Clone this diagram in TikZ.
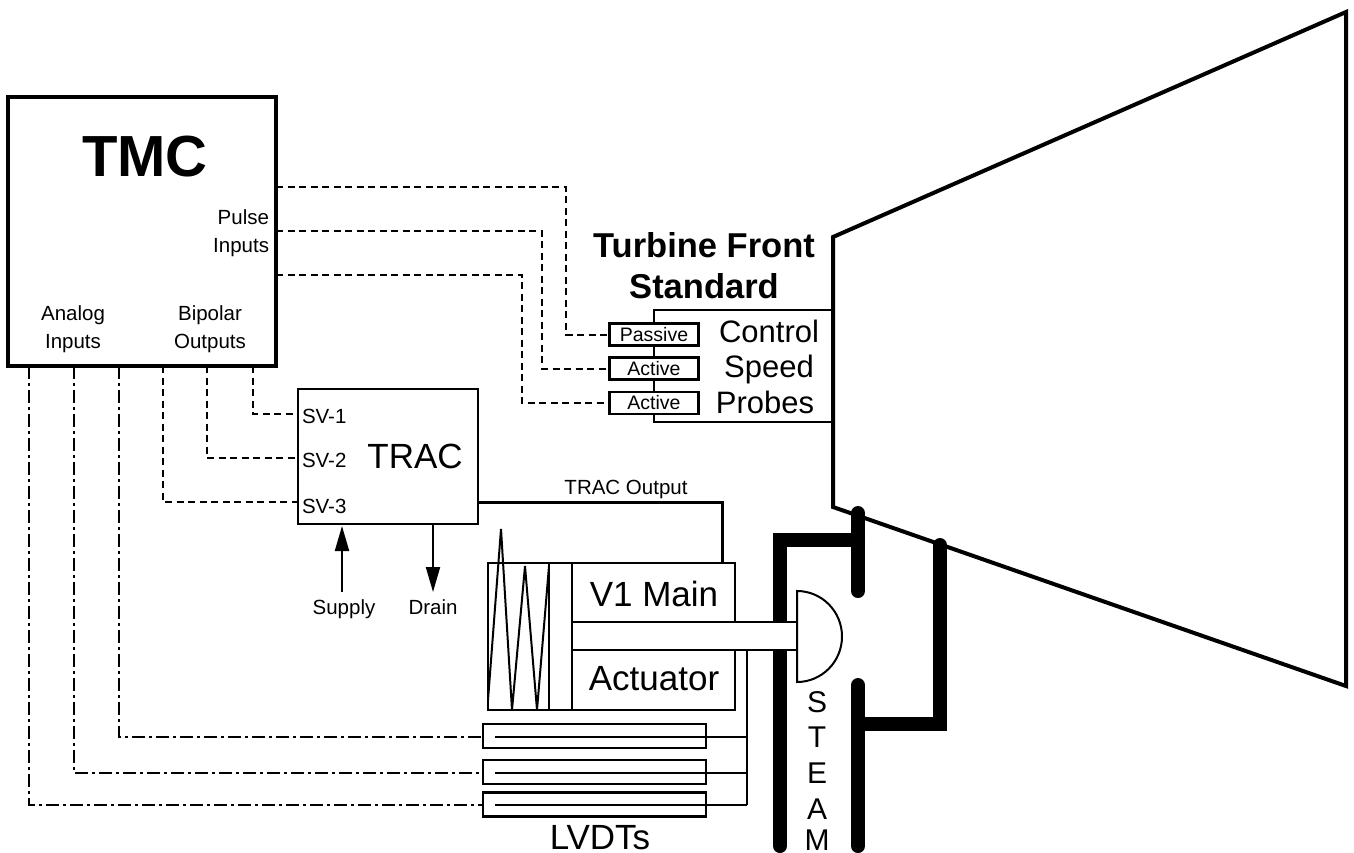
\documentclass[tikz,border=0pt]{standalone}
\usepackage{fontspec}
\setmainfont{Liberation Sans}
\usetikzlibrary{arrows.meta}
\begin{document}
\begin{tikzpicture}[
            x=1pt, y=-1pt, inner sep=0pt, outer sep=0pt,
            box/.style={rectangle, draw=black, line width=2.5pt, fill=white},
            probe/.style={box, minimum width=89pt, minimum height=22pt},
            lvdt/.style={box, minimum width=223pt, minimum height=24pt},
            lbl/.style={font=\fontsize{20.5}{28}\selectfont, align=center},
            big/.style={font=\fontsize{35}{41}\selectfont, align=center, anchor=base},
            mid/.style={font=\fontsize{31}{36}\selectfont, anchor=base},
            head/.style={font=\bfseries\fontsize{34.5}{41}\selectfont, anchor=base},
            dashline/.style={line width=2pt, dash pattern=on 7pt off 4.5pt},
            dotline/.style={line width=2pt, dash pattern=on 13pt off 4pt on 3pt off 4pt},
            wire/.style={line width=2pt},
            flow/.style={wire, -{Triangle[length=25pt, width=14pt]}},
            pipe/.style={line width=14pt, line cap=round, line join=miter}
          ]
          \useasboundingbox (0,0) rectangle (1354,852);
          % Turbine
          \draw[line width=4pt, line join=miter] (833,237) -- (1346,12) -- (1346,686)
            -- (833,507) -- cycle;
          \coordinate (frontT) at (833,310);
          \coordinate (frontB) at (833,422);
          % Steam pipes
          \draw[pipe] (780,846) -- (780,540) -- (858,540);
          \draw[pipe] (858,513) -- (858,591);
          \draw[pipe] (858,685) -- (858,846);
          \draw[pipe] (858,724) -- (940,724) -- (940,545);
          \foreach \c/\y in {S/712, T/747, E/783, A/819, M/850} {
            \node[anchor=base, font=\fontsize{30}{36}\selectfont] (steam\c) at (817,\y) {\c};
          }
          % Controller
          \node[box, line width=4pt, minimum width=268pt, minimum height=269pt] (tmc) at (142,231.5) {};
          \node[anchor=base, font=\bfseries\fontsize{58}{70}\selectfont] (tmcname) at (145,176) {TMC};
          \node[lbl, align=right, anchor=east] (pulse) at (269,233) {Pulse\\Inputs};
          \node[lbl] (analog) at (73,329) {Analog\\Inputs};
          \node[lbl] (bipolar) at (210,329) {Bipolar\\Outputs};
          % Speed probes
          \draw[wire] (frontT) -| (654,422) -- (frontB);
          \foreach \n/\t/\y/\b in {pp1/Passive/334.5/341, pp2/Active/368.5/375, pp3/Active/403/409} {
            \node[probe] (\n) at (654,\y) {};
            \node[anchor=base, font=\fontsize{19.5}{23}\selectfont] (\n text) at (654,\b) {\t};
          }
          \foreach \n/\y/\x in {pp1/187/566, pp2/231/542, pp3/275/522} {
            \draw[dashline] (tmc.east |- 0,\y) -| (\x,0 |- \n.west) -- (\n.west);
          }
          \node[head] (front) at (704,257) {Turbine Front};
          \node[head] (standard) at (704,298) {Standard};
          \node[mid] (control) at (769,342) {Control};
          \node[mid] (speed) at (769,377) {Speed};
          \node[mid] (probes) at (765,413) {Probes};
          % Servo amplifier
          \node[box, minimum width=180pt, minimum height=135pt] (trac) at (388,456.5) {};
          \node[big] (tracname) at (415,468) {TRAC};
          \foreach \i/\y/\b/\x in {1/414/423/253, 2/458/467/207, 3/502/513/163} {
            \node[lbl, anchor=base west] (sv\i) at (302,\b) {SV-\i};
            \draw[dashline] (\x,0 |- tmc.south) |- (trac.west |- 0,\y);
          }
          % Hydraulics
          \node[lbl, anchor=base] (supply) at (344,614) {Supply};
          \node[lbl, anchor=base] (drain) at (433,614) {Drain};
          \coordinate (supplyEnd) at (342,592);
          \coordinate (drainEnd) at (433,592);
          \draw[flow, shorten >=2pt] (supplyEnd) -- (supplyEnd |- trac.south);
          \draw[flow] (drainEnd |- trac.south) -- (drainEnd);
          % Actuator
          \node[box, minimum width=247pt, minimum height=147pt] (act) at (611.5,636.5) {};
          \draw[wire] (572,0 |- act.north) -- (572,0 |- act.south);
          \draw[wire] (549,0 |- act.north) -- (549,0 |- act.south);
          \draw[wire, line join=miter] (488,700) -- (501,529) -- (512,710) -- (525,566) -- (537,710) -- (549,566);
          \draw[line width=3pt] (trac.east |- 0,502) -| (722,0 |- act.north);
          \node[lbl, anchor=base] (tracout) at (626,494) {TRAC Output};
          \node[big] (v1main) at (654,606) {V1 Main};
          \node[big] (actuator) at (654,690) {Actuator};
          % Valve
          \node[box, minimum width=225pt, minimum height=28pt] (rod) at (684.5,636) {};
          \draw[wire, fill=white] (797,591) arc[start angle=90, end angle=-90, x radius=45pt, y radius=45.5pt] -- cycle;
          % LVDTs
          \node[lvdt] (lvdt1) at (594.5,736) {};
          \node[lvdt] (lvdt2) at (594.5,772) {};
          \node[lvdt] (lvdt3) at (594.5,804.5) {};
          \foreach \i/\y/\x in {1/737/119, 2/773/74, 3/805/29} {
            \draw[dotline] (\x,0 |- tmc.south) |- (lvdt\i.west |- 0,\y);
            \draw[wire] (495,\y) -- (747,\y);
          }
          \draw[wire] (747,0 |- rod.south) -- (747,805);
          \node[big] (lvdts) at (600,849) {LVDTs};
        \end{tikzpicture}
\end{document}
